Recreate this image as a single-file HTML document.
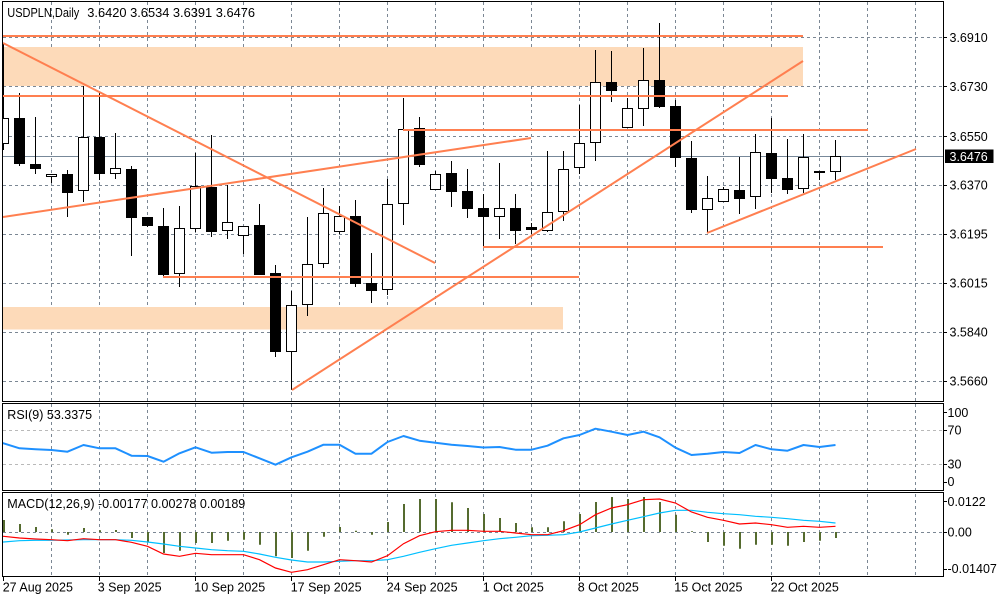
<!DOCTYPE html>
<html>
<head>
<meta charset="utf-8">
<style>
  html,body{margin:0;padding:0;background:#fff;}
  svg{display:block;}
  text{font-family:"Liberation Sans",Arial,sans-serif;font-size:12.5px;fill:#000;}
</style>
</head>
<body>
<svg width="1000" height="600" viewBox="0 0 1000 600" xmlns="http://www.w3.org/2000/svg">
  <defs>
    <clipPath id="mainclip"><rect x="3" y="2" width="940" height="399"/></clipPath>
    <clipPath id="rsiclip"><rect x="3" y="404" width="940" height="86"/></clipPath>
    <clipPath id="macdclip"><rect x="3" y="493" width="940" height="83"/></clipPath>
  </defs>
  <rect x="0" y="0" width="1000" height="600" fill="#fff"/>

  <!-- vertical grid -->
  <g stroke="#7b8794" stroke-width="1" stroke-dasharray="3,3">
    <path d="M51.5,2V576 M99.5,2V576 M147.5,2V576 M195.5,2V576 M243.5,2V576 M291.5,2V576 M339.5,2V576 M387.5,2V576 M435.5,2V576 M483.5,2V576 M531.5,2V576 M579.5,2V576 M627.5,2V576 M675.5,2V576 M723.5,2V576 M771.5,2V576 M819.5,2V576 M867.5,2V576 M915.5,2V576"/>
  </g>
  <rect x="0" y="402" width="944" height="1" fill="#fff"/>
  <rect x="0" y="491" width="944" height="1" fill="#fff"/>

  <!-- main horizontal grid -->
  <g stroke="#7b8794" stroke-width="1" stroke-dasharray="3,3">
    <path d="M3,37.5H943 M3,86.5H943 M3,136.5H943 M3,185.5H943 M3,234.5H943 M3,283.5H943 M3,332.5H943 M3,381.5H943"/>
  </g>

  <g clip-path="url(#mainclip)">
    <!-- zones -->
    <rect x="2.5" y="47" width="800.5" height="39" fill="#fddab9"/>
    <rect x="2.5" y="307" width="560.5" height="22.5" fill="#fddab9"/>
    <!-- current price line -->
    <line x1="3" y1="156.5" x2="943" y2="156.5" stroke="#778899" stroke-width="1"/>

    <!-- candles -->
    <g stroke="#000" stroke-width="1">
      <path d="M3.5,43V150 M19.5,93V166 M35.5,117V174 M51.5,174V183 M67.5,170V217 M83.5,86V202 M99.5,93V180 M115.5,133V179 M131.5,166V256 M147.5,217V227 M163.5,208V277 M179.5,206V287 M195.5,153V232 M211.5,135V237 M227.5,185V239 M243.5,226V254 M259.5,204V275 M275.5,265V357 M291.5,291V390 M307.5,217V316 M323.5,188V268 M339.5,206V234 M355.5,200V287 M371.5,253V303 M387.5,179V295 M403.5,98V225 M419.5,117V167 M435.5,171V190 M451.5,161V207 M467.5,169V218 M483.5,194V247 M499.5,163V239 M515.5,194V244 M531.5,223V234 M547.5,151V232 M563.5,151V221 M579.5,105V174 M595.5,50V161 M611.5,51V102 M627.5,98V128 M643.5,48V126 M659.5,23V108 M675.5,100V167 M691.5,141V213 M707.5,176V233 M723.5,187V202 M739.5,157V214 M755.5,134V209 M771.5,118V193 M787.5,139V194 M803.5,134V193 M819.5,171V180 M835.5,140V180"/>
    </g>
    <!-- black bodies -->
    <g fill="#000">
      <rect x="14" y="118" width="11" height="46"/>
      <rect x="30" y="164" width="11" height="5"/>
      <rect x="62" y="174" width="11" height="19"/>
      <rect x="94" y="137" width="11" height="37"/>
      <rect x="126" y="169" width="11" height="49"/>
      <rect x="142" y="217" width="11" height="9"/>
      <rect x="158" y="226" width="11" height="49"/>
      <rect x="206" y="187" width="11" height="45"/>
      <rect x="254" y="225" width="11" height="50"/>
      <rect x="270" y="273" width="11" height="79"/>
      <rect x="350" y="216" width="11" height="68"/>
      <rect x="366" y="283" width="11" height="8"/>
      <rect x="414" y="128" width="11" height="37"/>
      <rect x="446" y="173" width="11" height="19"/>
      <rect x="462" y="191" width="11" height="18"/>
      <rect x="478" y="208" width="11" height="9"/>
      <rect x="510" y="208" width="11" height="23"/>
      <rect x="526" y="227" width="11" height="3"/>
      <rect x="606" y="82" width="11" height="9"/>
      <rect x="654" y="80" width="11" height="27"/>
      <rect x="670" y="106" width="11" height="52"/>
      <rect x="686" y="158" width="11" height="52"/>
      <rect x="734" y="190" width="11" height="9"/>
      <rect x="766" y="153" width="11" height="26"/>
      <rect x="782" y="178" width="11" height="12"/>
      <rect x="814" y="171" width="11" height="2"/>
    </g>
    <!-- white bodies -->
    <g fill="#fff" stroke="#000" stroke-width="1">
      <rect x="-1.5" y="118.5" width="10" height="25"/>
      <rect x="46.5" y="174.5" width="10" height="2"/>
      <rect x="78.5" y="137.5" width="10" height="53"/>
      <rect x="110.5" y="168.5" width="10" height="5"/>
      <rect x="174.5" y="228.5" width="10" height="45"/>
      <rect x="190.5" y="186.5" width="10" height="42"/>
      <rect x="222.5" y="222.5" width="10" height="8"/>
      <rect x="238.5" y="226.5" width="10" height="9"/>
      <rect x="286.5" y="305.5" width="10" height="46"/>
      <rect x="302.5" y="264.5" width="10" height="40"/>
      <rect x="318.5" y="213.5" width="10" height="50"/>
      <rect x="334.5" y="216.5" width="10" height="15"/>
      <rect x="382.5" y="204.5" width="10" height="85"/>
      <rect x="398.5" y="129.5" width="10" height="74"/>
      <rect x="430.5" y="174.5" width="10" height="15"/>
      <rect x="494.5" y="208.5" width="10" height="8"/>
      <rect x="542.5" y="212.5" width="10" height="18"/>
      <rect x="558.5" y="169.5" width="10" height="42"/>
      <rect x="574.5" y="143.5" width="10" height="24"/>
      <rect x="590.5" y="82.5" width="10" height="60"/>
      <rect x="622.5" y="108.5" width="10" height="19"/>
      <rect x="638.5" y="80.5" width="10" height="28"/>
      <rect x="702.5" y="198.5" width="10" height="11"/>
      <rect x="718.5" y="189.5" width="10" height="12"/>
      <rect x="750.5" y="152.5" width="10" height="44"/>
      <rect x="798.5" y="157.5" width="10" height="31"/>
      <rect x="830.5" y="156.5" width="10" height="15"/>
    </g>

    <!-- trend lines / levels -->
    <g stroke="#ff7f50" stroke-width="2" fill="none">
      <line x1="2.5" y1="36" x2="803" y2="36"/>
      <line x1="2.5" y1="96" x2="788" y2="96"/>
      <line x1="403" y1="130" x2="868" y2="130"/>
      <line x1="3" y1="43" x2="435" y2="263"/>
      <line x1="3" y1="217" x2="531" y2="138"/>
      <line x1="163" y1="277" x2="579" y2="277"/>
      <line x1="292" y1="390" x2="803" y2="61"/>
      <line x1="483" y1="247" x2="883" y2="247"/>
      <line x1="707" y1="233" x2="916" y2="149"/>
    </g>
  </g>

  <!-- RSI panel -->
  <g stroke="#b9b9b9" stroke-width="1" stroke-dasharray="3,3">
    <path d="M3,430.5H943 M3,464.5H943"/>
  </g>
  <g clip-path="url(#rsiclip)">
    <polyline fill="none" stroke="#1e90ff" stroke-width="2" stroke-linejoin="round"
      points="2,443 3.5,443.3 19.5,448.3 35.5,449.3 51.5,450 67.5,451.7 83.5,445 99.5,448.3 115.5,448.3 131.5,455.7 147.5,456 163.5,461.7 179.5,453.3 195.5,447.3 211.5,452.7 227.5,452 243.5,452 259.5,458.3 275.5,464.7 291.5,457.3 307.5,451.7 323.5,444.7 339.5,444.7 355.5,453.7 371.5,453.7 387.5,442 403.5,436 419.5,440.7 435.5,442.7 451.5,444.7 467.5,446 483.5,447.5 499.5,447 515.5,449.7 531.5,449.7 547.5,445.7 563.5,438.3 579.5,435 595.5,428.7 611.5,431.7 627.5,435 643.5,431.7 659.5,437.3 675.5,447.7 691.5,455 707.5,453.7 723.5,452 739.5,453 755.5,445 771.5,449.3 787.5,450.7 803.5,445 819.5,447 835.5,445"/>
  </g>

  <!-- MACD panel -->
  <g stroke="#7b8794" stroke-width="1" stroke-dasharray="3,3">
    <path d="M3,532.5H943"/>
  </g>
  <g clip-path="url(#macdclip)">
    <path stroke="#556b2f" stroke-width="2" fill="none"
      d="M4,532V520 M20,532V524 M36,532V527 M52,532V529.3 M68,532V534.7 M84,532V528 M100,532V530.3 M116,532V530 M132,532V538 M148,532V542 M164,532V553 M180,532V550.7 M196,532V543 M212,532V543 M228,532V540.7 M244,532V539.7 M260,532V544.7 M276,532V556.3 M292,532V558 M308,532V550.7 M324,532V536.7 M340,532V527 M356,532V530.7 M372,532V534.7 M388,532V522 M404,532V504 M420,532V499 M436,532V499 M452,532V502.3 M468,532V508 M484,532V514 M500,532V518 M516,532V523 M532,532V527.3 M548,532V527.3 M564,532V521.3 M580,532V514 M596,532V502 M612,532V497 M628,532V499 M644,532V497 M660,532V502 M676,532V514.7 M692,532V531.3 M708,532V542 M724,532V545.7 M740,532V548.7 M756,532V544.7 M772,532V544.7 M788,532V545.7 M804,532V542 M820,532V540.7 M836,532V538"/>
    <polyline fill="none" stroke="#00bfff" stroke-width="1.2"
      points="2,542 3.5,542 19.5,540.7 35.5,540.3 51.5,540.3 67.5,540 83.5,539.7 99.5,539.7 115.5,539.7 131.5,540.3 147.5,542 163.5,544 179.5,546.3 195.5,548 211.5,549.7 227.5,550.7 243.5,551.3 259.5,554 275.5,557.3 291.5,560 307.5,562 323.5,562 339.5,561.3 355.5,560.7 371.5,560.7 387.5,559.7 403.5,556.3 419.5,552.3 435.5,548.7 451.5,545.3 467.5,543 483.5,540.7 499.5,538.7 515.5,537.3 531.5,535.7 547.5,535.3 563.5,534.7 579.5,532 595.5,528 611.5,524 627.5,520.3 643.5,516.7 659.5,513 675.5,510.3 691.5,510.3 707.5,512.3 723.5,513.7 739.5,514.7 755.5,516.3 771.5,517.3 787.5,518.7 803.5,520.3 819.5,521.3 835.5,523"/>
    <polyline fill="none" stroke="#ff0000" stroke-width="1.2"
      points="2,536.3 3.5,536.3 19.5,538 35.5,539 51.5,539.7 67.5,540.7 83.5,538.7 99.5,539.7 115.5,539.7 131.5,542.3 147.5,546.3 163.5,554 179.5,556.3 195.5,553.3 211.5,554.7 227.5,554.7 243.5,554.7 259.5,559.7 275.5,568 291.5,572.3 307.5,569.7 323.5,564.7 339.5,559.7 355.5,560.7 371.5,562 387.5,555.7 403.5,543.7 419.5,535.7 435.5,531.7 451.5,530.3 467.5,530.3 483.5,531.3 499.5,531.3 515.5,533 531.5,534.7 547.5,534.7 563.5,530.7 579.5,524.7 595.5,514.7 611.5,508 627.5,504.7 643.5,499.7 659.5,499 675.5,503 691.5,512 707.5,517.3 723.5,520.3 739.5,524 755.5,523 771.5,524.7 787.5,527.3 803.5,526.3 819.5,527.3 835.5,526.3"/>
  </g>

  <!-- panel borders -->
  <g fill="none" stroke="#000" stroke-width="1">
    <rect x="2.5" y="1.5" width="941" height="400"/>
    <rect x="2.5" y="403.5" width="941" height="87"/>
    <rect x="2.5" y="492.5" width="941" height="84"/>
  </g>

  <!-- right axis ticks -->
  <g stroke="#000" stroke-width="1">
    <path d="M943,37.5H947 M943,86.5H947 M943,136.5H947 M943,185.5H947 M943,234.5H947 M943,283.5H947 M943,332.5H947 M943,381.5H947"/>
    <path d="M943,412.5H947 M943,430.5H947 M943,464.5H947 M943,482.5H947"/>
    <path d="M943,501.5H947 M943,532.5H947 M943,569.5H947"/>
    <path d="M3.5,577V581 M99.5,577V581 M195.5,577V581 M291.5,577V581 M387.5,577V581 M483.5,577V581 M579.5,577V581 M675.5,577V581 M771.5,577V581"/>
  </g>

  <!-- price labels -->
  <text x="949.5" y="41.8">3.6910</text>
  <text x="949.5" y="90.8">3.6730</text>
  <text x="949.5" y="140.8">3.6550</text>
  <text x="949.5" y="189.6">3.6370</text>
  <text x="949.5" y="238.6">3.6195</text>
  <text x="949.5" y="287.6">3.6015</text>
  <text x="949.5" y="336.6">3.5840</text>
  <text x="949.5" y="385.4">3.5660</text>
  <rect x="945" y="149.5" width="48.5" height="13.5" fill="#000"/>
  <text x="949.5" y="160.8" style="fill:#fff">3.6476</text>

  <!-- RSI labels -->
  <text x="947.5" y="416.8">100</text>
  <text x="947.5" y="434.5">70</text>
  <text x="947.5" y="468.5">30</text>
  <text x="947.5" y="486">0</text>

  <!-- MACD labels -->
  <text x="947.5" y="505.8">0.0122</text>
  <text x="947.5" y="536.5">0.00</text>
  <text x="947.5" y="573">-0.01407</text>

  <!-- titles -->
  <text x="7.3" y="17" textLength="72" lengthAdjust="spacingAndGlyphs">USDPLN,Daily</text>
  <text x="87.3" y="17" textLength="167.7" lengthAdjust="spacingAndGlyphs">3.6420 3.6534 3.6391 3.6476</text>
  <text x="7.3" y="419.2">RSI(9) 53.3375</text>
  <text x="7.3" y="508.2" textLength="238" lengthAdjust="spacingAndGlyphs">MACD(12,26,9) -0.00177 0.00278 0.00189</text>

  <!-- date labels -->
  <text x="2.7" y="591.3">27 Aug 2025</text>
  <text x="97.7" y="591.3">3 Sep 2025</text>
  <text x="194.3" y="591.3">10 Sep 2025</text>
  <text x="290.7" y="591.3">17 Sep 2025</text>
  <text x="386.7" y="591.3">24 Sep 2025</text>
  <text x="482.7" y="591.3">1 Oct 2025</text>
  <text x="577.7" y="591.3">8 Oct 2025</text>
  <text x="674.3" y="591.3">15 Oct 2025</text>
  <text x="770.7" y="591.3">22 Oct 2025</text>
</svg>
</body>
</html>
